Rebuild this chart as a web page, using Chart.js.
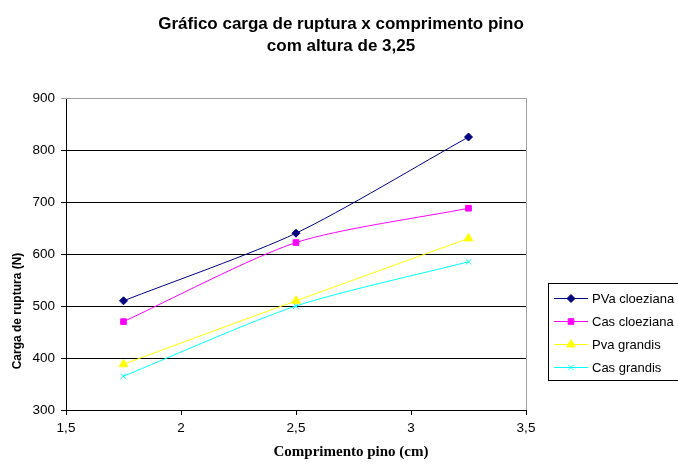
<!DOCTYPE html>
<html>
<head>
<meta charset="utf-8">
<title>Gráfico carga de ruptura x comprimento pino</title>
<script src="https://cdn.jsdelivr.net/npm/chart.js"></script>
<style>
  html, body { margin: 0; padding: 0; background: #fff; }
  #wrap { width: 678px; height: 465px; position: relative; }
</style>
</head>
<body>
<div id="wrap"><canvas id="chart"></canvas></div>
<script>
// data
const comprimento = [1.75, 2.5, 3.25];
const pvaCloeziana = [510, 640, 825];
const casCloeziana = [470, 622, 688];
const pvaGrandis = [388, 510, 630];
const casGrandis = [365, 500, 585];
const seriesNames = ['PVa cloeziana', 'Cas cloeziana', 'Pva grandis', 'Cas grandis'];
const titleLines = ['Gráfico carga de ruptura x comprimento pino', 'com altura de 3,25'];
const xTitle = 'Comprimento pino (cm)';
const yTitle = 'Carga de ruptura (N)';

const SANS = '"Liberation Sans", Arial, sans-serif';
const SERIF = '"Liberation Serif", "Times New Roman", serif';
const fmt = v => String(v).replace('.', ',');

function pts(vals) {
  return comprimento.map((x, i) => ({ x: x, y: vals[i] }));
}

function ds(label, vals, color, style, radius) {
  return {
    label: label,
    data: pts(vals),
    borderColor: color,
    backgroundColor: color,
    borderWidth: 1,
    pointStyle: style,
    pointRadius: radius,
    pointBorderWidth: 1,
    tension: 0.25,
    fill: false
  };
}

// titles, grey plot border (top/right) and boxed legend
const extras = {
  id: 'extras',
  beforeDatasetsDraw(chart) {
    const a = chart.chartArea, c = chart.ctx;
    c.save();
    c.strokeStyle = '#a0a0a0';
    c.lineWidth = 1;
    c.beginPath();
    c.moveTo(a.left, a.top + 0.5);
    c.lineTo(a.right + 0.5, a.top + 0.5);
    c.lineTo(a.right + 0.5, a.bottom);
    c.stroke();
    c.restore();
  },
  afterDraw(chart) {
    const c = chart.ctx;
    c.save();
    c.fillStyle = '#000';
    c.textAlign = 'center';
    c.textBaseline = 'middle';
    c.font = 'bold 17px ' + SANS;
    c.fillText(titleLines[0], 341, 24);
    c.fillText(titleLines[1], 341, 46);

    c.font = 'bold 15px ' + SERIF;
    c.fillText(xTitle, 351, 452);

    c.save();
    c.translate(18, 311);
    c.rotate(-Math.PI / 2);
    c.font = 'bold 12px ' + SANS;
    c.fillText(yTitle, 0, 0);
    c.restore();

    c.textAlign = 'left';
    c.strokeStyle = '#000';
    c.lineWidth = 1;
    c.strokeRect(548.5, 283.5, 140, 97);
    c.font = '13px ' + SANS;
    chart.data.datasets.forEach((d, i) => {
      const y = 298 + i * 23;
      c.strokeStyle = d.borderColor;
      c.beginPath();
      c.moveTo(554, y + 0.5);
      c.lineTo(588, y + 0.5);
      c.stroke();
      c.fillStyle = d.backgroundColor;
      Chart.helpers.drawPoint(c, { pointStyle: d.pointStyle, radius: d.pointRadius, borderWidth: 1 }, 571, y + 0.5);
      c.fillStyle = '#000';
      c.fillText(d.label, 592, y + 1);
    });
    c.restore();
  }
};

new Chart(document.getElementById('chart'), {
  type: 'line',
  data: {
    datasets: [
      ds(seriesNames[0], pvaCloeziana, '#000080', 'rectRot', 4),
      ds(seriesNames[1], casCloeziana, '#FF00FF', 'rect', 4),
      ds(seriesNames[2], pvaGrandis, '#FFFF00', 'triangle', 5),
      ds(seriesNames[3], casGrandis, '#00FFFF', 'crossRot', 4)
    ]
  },
  options: {
    responsive: true,
    maintainAspectRatio: false,
    animation: false,
    layout: { padding: { left: 0, right: 152, top: 98, bottom: 0 } },
    plugins: {
      legend: { display: false },
      tooltip: { enabled: false },
      title: { display: false }
    },
    scales: {
      x: {
        type: 'linear',
        min: 1.5,
        max: 3.5,
        afterFit: s => { s.height = 55; },
        ticks: {
          stepSize: 0.5,
          color: '#000',
          font: { family: SANS, size: 13.5 },
          padding: 5,
          maxRotation: 0,
          callback: v => fmt(v)
        },
        grid: { drawOnChartArea: false, color: '#000', tickLength: 5 },
        border: { color: '#000' }
      },
      y: {
        min: 300,
        max: 900,
        afterFit: s => { s.width = 66; },
        ticks: {
          stepSize: 100,
          color: '#000',
          font: { family: SANS, size: 13.5 },
          padding: 6
        },
        grid: {
          color: ctx => (ctx.tick && ctx.tick.value === 900) ? '#a0a0a0' : '#000',
          tickLength: 5
        },
        border: { color: '#000' }
      }
    }
  },
  plugins: [extras]
});
</script>
</body>
</html>
